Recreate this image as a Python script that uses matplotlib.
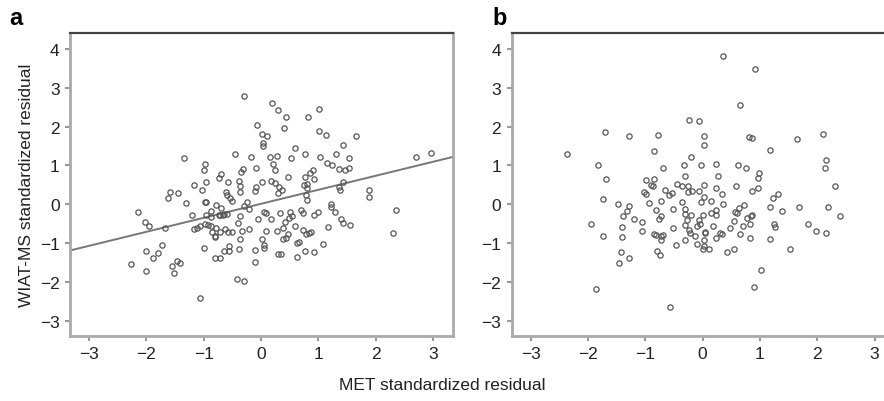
import numpy as np
import matplotlib
matplotlib.use("Agg")
import matplotlib.pyplot as plt

plt.rcParams['font.family'] = ['Liberation Sans', 'DejaVu Sans']

# --- datos panel a (MET vs WIAT-MS) ---
a_x = [-0.29, 0.20, 0.30, 0.43, 0.82, 1.02, -0.07, 0.41, 0.02, 0.10, 1.02, 1.13, 1.65,
       0.04, 0.04, 0.60, 1.43, -0.45, -0.18, 0.15, 0.28, 0.52, 0.76, 1.03, 1.31, 1.54,
       -1.34, -0.97, -1.00, -0.31, -0.08, 0.21, 0.24, 1.15, 1.24, 1.36, 1.47, 1.54, 0.48,
       0.76, 0.91, 0.85, 0.92, -0.69, -0.74, -0.34, -0.38, -0.96, -1.16, -1.03, -0.57,
       -0.37, 0.01, -0.09, 0.17, 0.25, 0.32, 0.36, 0.75, 0.80, 0.80, 1.43, 1.36, 1.37,
       1.89, 1.89, 2.70, 2.97, -0.61, -0.59, -0.54, -0.51, -0.37, -0.10, 0.30, 0.79, 0.80,
       -1.58, -1.45, -1.62, -1.30, -0.98, -0.96, -0.78, -0.24, -0.29, -0.20, -1.20, -2.15,
       -2.03, -1.96, -1.67, -1.16, -1.11, -1.06, -0.98, -0.93, -0.87, -0.95, -0.87, -0.74,
       -0.71, -0.67, -0.64, -0.60, -0.69, -0.87, -0.78, -0.85, -0.81, -0.80, -0.71, -0.63,
       -0.57, -0.50, -0.40, -0.36, -0.33, -0.37, -0.20, -0.05, 0.06, 0.08, 0.17, 0.33,
       0.38, 0.42, 0.49, 0.51, 0.54, 0.60, 0.70, 0.73, 0.73, 0.78, 0.83, 0.88, 0.92, 0.99,
       1.22, 1.23, 1.29, 1.17, 1.39, 1.43, 1.56, 2.36, 2.31, 0.08, 0.28, 0.43, 0.47, 0.38,
       0.02, 0.06, 0.05, -0.10, -0.38, -0.56, -0.55, -0.99, -0.65, -0.80, -0.71, -0.11,
       0.29, 0.35, 0.63, 0.66, 0.62, 0.76, 0.92, 1.08, -2.00, -1.89, -1.79, -1.73, -2.26,
       -2.01, -1.56, -1.51, -1.46, -1.41, -0.41, -0.29, -1.07]
a_y = [2.80, 2.61, 2.43, 2.25, 2.25, 2.46, 2.04, 1.97, 1.81, 1.76, 1.89, 1.78, 1.77,
       1.58, 1.49, 1.46, 1.53, 1.29, 1.21, 1.23, 1.25, 1.18, 1.29, 1.21, 1.30, 1.18,
       1.19, 1.05, 0.89, 0.90, 0.94, 1.04, 0.88, 1.07, 1.00, 0.91, 0.88, 0.94, 0.70,
       0.70, 0.89, 0.81, 0.66, 0.78, 0.69, 0.82, 0.61, 0.57, 0.50, 0.38, 0.57,
       0.48, 0.57, 0.45, 0.59, 0.55, 0.44, 0.37, 0.50, 0.52, 0.43, 0.57, 0.44, 0.38,
       0.36, 0.20, 1.22, 1.31, 0.32, 0.23, 0.17, 0.08, 0.31, 0.33, 0.29, 0.25, 0.10,
       0.32, 0.30, 0.15, 0.04, 0.07, 0.06, -0.02, 0.05, -0.04, -0.12, -0.28, -0.21,
       -0.45, -0.56, -0.62, -0.63, -0.61, -0.57, -0.50, -0.54, -0.18, -0.28, -0.33, -0.27,
       -0.28, -0.27, -0.24, -0.25, -0.09, -0.55, -0.60, -0.71, -0.81, -0.83, -0.71, -0.64,
       -0.71, -0.71, -0.48, -0.29, -0.69, -0.90, -0.63, -0.37, -0.20, -0.23, -0.37, -0.23,
       -0.61, -0.45, -0.35, -0.20, -0.29, -0.55, -0.15, -0.22, -0.67, -0.77, -0.74, -0.72,
       -0.28, -0.21, 0.00, -0.08, -0.19, -0.59, -0.39, -0.49, -0.52, -0.15, -0.73, -0.69,
       -0.69, -0.87, -0.77, -0.90, -0.89, -1.05, -1.12, -1.18, -1.14, -1.07, -1.20, -1.13,
       -1.20, -1.38, -1.38, -1.48, -1.29, -1.29, -1.00, -0.97, -1.35, -1.21, -1.24, -1.02,
       -1.19, -1.39, -1.26, -1.05, -1.53, -1.71, -1.60, -1.77, -1.47, -1.51, -1.93, -1.98,
       -2.42]

# --- datos panel b ---
b_x = [0.35, 0.92, 0.66, -0.23, -0.07, -1.71, -1.28, -0.77, 0.03, 0.03, 0.81, 0.87, 1.65,
       2.10, -2.37, -0.84, -0.21, 1.17, 2.16, 2.13, -1.83, -0.69, -0.33, -0.03, 0.23, 0.61,
       0.75, 0.99, 0.96, -1.68, -0.99, -0.84, -0.30, 0.27, -0.90, -0.87, -0.44, -0.36,
       -0.26, 0.03, 0.23, 0.59, 0.97, 0.87, 2.31, -1.03, -0.99, -0.66, -0.59, -0.54, -0.25,
       -0.18, -0.07, 0.33, 1.32, 1.23, -1.74, -0.94, -0.72, -0.36, -0.03, 0.03, 0.15, 0.36,
       -1.47, -1.28, -1.31, -1.38, -1.20, -1.95, -1.05, -1.05, -1.40, -1.40, -1.74, -1.43,
       -1.28, -1.46, -1.86, -0.57, -0.81, -0.76, -0.72, -0.51, -0.31, -0.30, -0.21, -0.30,
       -0.27, -0.23, -0.22, -0.13, -0.51, -0.09, -0.07, -0.04, 0.01, 0.15, 0.23, 0.23, 0.04,
       0.05, 0.18, 0.30, 0.34, 0.24, 0.03, -0.09, 0.03, 0.00, 0.12, 0.42, 0.54, -0.47,
       -0.30, -0.72, -0.69, -0.85, -0.81, -0.72, -0.79, -0.75, 0.47, 0.54, 0.57, 0.60,
       0.63, 0.73, 0.70, 0.66, 0.82, 0.82, 0.78, 0.84, 0.87, 1.18, 1.39, 1.24, 1.27, 1.17,
       1.68, 1.83, 1.98, 2.16, 2.19, 2.40, 1.52, 1.02, 0.90]
b_y = [3.81, 3.48, 2.56, 2.18, 2.15, 1.85, 1.77, 1.78, 1.76, 1.52, 1.74, 1.71, 1.67,
       1.82, 1.29, 1.37, 1.23, 1.40, 1.15, 0.93, 1.00, 0.93, 1.00, 1.01, 1.05, 1.00,
       0.93, 0.81, 0.68, 0.65, 0.62, 0.66, 0.74, 0.72, 0.51, 0.48, 0.53, 0.46,
       0.47, 0.51, 0.43, 0.48, 0.43, 0.33, 0.48, 0.32, 0.27, 0.36, 0.24, 0.29, 0.32,
       0.33, 0.33, 0.27, 0.26, 0.16, 0.13, 0.03, 0.09, 0.07, 0.07, 0.18, 0.09, 0.00,
       0.00, -0.04, -0.17, -0.29, -0.39, -0.51, -0.45, -0.69, -0.59, -0.85, -0.81, -1.22,
       -1.37, -1.51, -2.18, -2.64, -0.15, -0.37, -0.30, -0.13, -0.13, -0.24, -0.27, -0.52,
       -0.40, -0.65, -0.75, -0.81, -0.60, -0.56, -0.41, -0.50, -0.28, -0.22, -0.14, -0.27, -0.71,
       -0.73, -0.57, -0.74, -0.77, -0.86, -0.92, -1.01, -1.08, -1.15, -1.16, -1.23, -1.14, -1.05,
       -0.93, -0.81, -0.79, -0.76, -0.80, -0.93, -1.20, -1.30, -0.62, -0.43, -0.21, -0.22,
       -0.10, -0.03, -0.57, -0.76, -0.86, -0.50, -0.36, -0.31, -0.27, -0.06, -0.18, -0.51, -0.59, -0.89,
       -0.07, -0.51, -0.69, -0.75, -0.07, -0.29, -1.14, -1.68, -2.12]

TICKS = [-3, -2, -1, 0, 1, 2, 3]
YTICKS = [-3, -2, -1, 0, 1, 2, 3, 4]

fig = plt.figure(figsize=(8.84, 4.02), dpi=100)
ax_a = fig.add_axes([0.0792, 0.1617, 0.4333, 0.7537])
ax_b = fig.add_axes([0.5788, 0.1617, 0.4333, 0.7537])

# recta de regresión del panel a
pend, inter = np.polyfit(a_x, a_y, 1)

for ax, xs, ys in [(ax_a, a_x, a_y), (ax_b, b_x, b_y)]:
    ax.plot(xs, ys, 'o', ms=3.8, mfc='none', mec='#555555', mew=0.9, zorder=3)
    ax.set_xlim(-3.33, 3.35)
    ax.set_ylim(-3.39, 4.41)
    ax.set_xticks(TICKS)
    ax.set_yticks(YTICKS)
    ax.tick_params(length=3.5, width=1.5, color='#999999', labelsize=12.5,
                   labelcolor='#222222', pad=4)
    ax.spines['top'].set_color('#444444')
    ax.spines['top'].set_linewidth(1.6)
    for s in ['left', 'bottom', 'right']:
        ax.spines[s].set_color('#aaaaaa')
        ax.spines[s].set_linewidth(2.0)

lx = np.array([-3.33, 3.35])
ax_a.plot(lx, pend * lx + inter, color='#777777', lw=1.4, zorder=2)

ax_a.set_ylabel('WIAT-MS standardized residual', fontsize=12.5, color='#222222', labelpad=4)
fig.text(0.5, 0.042, 'MET standardized residual', ha='center', va='center',
         fontsize=12.5, color='#222222')
fig.text(0.011, 0.955, 'a', fontsize=17, fontweight='bold', va='center')
fig.text(0.557, 0.955, 'b', fontsize=17, fontweight='bold', va='center')

print(pend, inter)
fig.savefig('out.png', dpi=100)
